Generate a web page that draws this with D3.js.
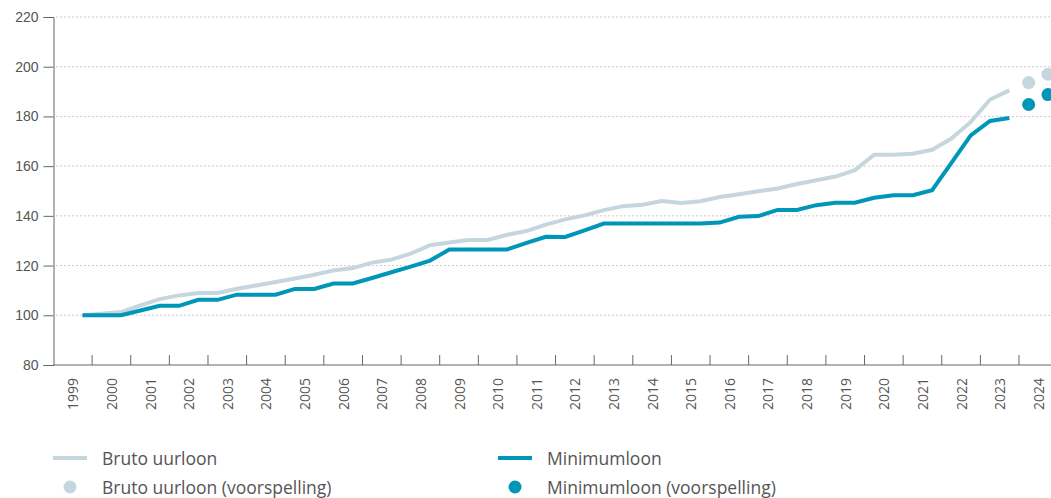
<!DOCTYPE html>
<html>
<head>
<meta charset="utf-8">
<script src="https://d3js.org/d3.v7.min.js"></script>
<style>
    body { margin: 0; background: #fff; }
    svg { display: block; font-family: "Open Sans", sans-serif; }
    .axis text { fill: #555; font-size: 14px; }
    .axis path, .axis line { stroke: #666; }
    .grid line { stroke: #999; stroke-dasharray: 1,3; }
    .legend text { fill: #555; font-size: 17.5px; }
</style>
</head>
<body>
<svg width="1051" height="498"></svg>
<script>

// half-year periods, 1999 H2 up to 2023 H2
var periods = ["1999-2",
    "2000-1","2000-2","2001-1","2001-2","2002-1","2002-2","2003-1","2003-2","2004-1","2004-2",
    "2005-1","2005-2","2006-1","2006-2","2007-1","2007-2","2008-1","2008-2","2009-1","2009-2",
    "2010-1","2010-2","2011-1","2011-2","2012-1","2012-2","2013-1","2013-2","2014-1","2014-2",
    "2015-1","2015-2","2016-1","2016-2","2017-1","2017-2","2018-1","2018-2","2019-1","2019-2",
    "2020-1","2020-2","2021-1","2021-2","2022-1","2022-2","2023-1","2023-2"];

var brutoUurloon = [100,
    100.6, 101.3, 104.0, 106.5, 108.0, 109.0, 109.0, 110.7, 112.0, 113.4,
    114.8, 116.3, 118.0, 119.0, 121.2, 122.4, 124.8, 128.2, 129.3, 130.3,
    130.3, 132.4, 133.9, 136.5, 138.6, 140.2, 142.3, 143.9, 144.5, 146.0,
    145.2, 145.9, 147.6, 148.7, 149.9, 151.0, 152.8, 154.3, 155.8, 158.4,
    164.6, 164.6, 165.0, 166.6, 171.1, 177.8, 186.8, 190.5];

var minimumloon = [100,
    100.0, 100.0, 101.9, 103.8, 103.8, 106.2, 106.2, 108.3, 108.3, 108.3,
    110.6, 110.6, 112.8, 112.8, 115.0, 117.3, 119.6, 122.0, 126.5, 126.5,
    126.5, 126.5, 129.1, 131.6, 131.5, 134.2, 136.9, 136.9, 136.9, 136.9,
    136.9, 136.9, 137.3, 139.6, 139.9, 142.4, 142.4, 144.3, 145.3, 145.3,
    147.3, 148.3, 148.3, 150.3, 161.3, 172.4, 178.2, 179.4];

// forecasts
var forecastPeriods = ["2024-1", "2024-2"];
var brutoForecast = [193.6, 197.0];
var minimumForecast = [184.8, 188.8];

var years = d3.range(1999, 2025);
var yTicks = [80, 100, 120, 140, 160, 180, 200, 220];

var lightColor = "#c5d6de",
    tealColor = "#0096b8";

var svg = d3.select("svg"),
    width = +svg.attr("width");

var x = d3.scaleLinear()
    .domain([1999, 2025])
    .range([53.5, 53.5 + 26 * 38.62]);

var y = d3.scaleLinear()
    .domain([80, 220])
    .range([365, 17]);

// place each half year in the middle of its half of the year band
function pos(p) {
    var parts = p.split("-");
    return +parts[0] + (parts[1] == "1" ? 0.25 : 0.75);
}

// grid
svg.append("g")
    .attr("class", "grid")
    .selectAll("line")
    .data(yTicks.filter(function(d) { return d > 80; }))
    .enter().append("line")
    .attr("x1", x(1999) + 3)
    .attr("x2", width)
    .attr("y1", function(d) { return y(d); })
    .attr("y2", function(d) { return y(d); });

// y axis
svg.append("g")
    .attr("class", "axis")
    .attr("transform", "translate(" + x(1999) + ",0)")
    .call(d3.axisLeft(y).tickValues(yTicks).tickSize(10).tickPadding(5));

// x axis: ticks on year boundaries, labels in the middle of the year
var xAxis = svg.append("g")
    .attr("class", "axis")
    .attr("transform", "translate(0," + y(80) + ")");

xAxis.append("line")
    .attr("x1", x(1999))
    .attr("x2", width)
    .attr("y1", 0).attr("y2", 0)
    .attr("stroke", "#666");

xAxis.selectAll(".tick")
    .data(years.slice(1))
    .enter().append("line")
    .attr("class", "tick")
    .attr("x1", function(d) { return x(d); })
    .attr("x2", function(d) { return x(d); })
    .attr("y1", 0)
    .attr("y2", -10)
    .attr("stroke", "#666");

xAxis.selectAll("text")
    .data(years)
    .enter().append("text")
    .attr("text-anchor", "end")
    .attr("dominant-baseline", "central")
    .attr("transform", function(d) {
        return "translate(" + x(d + 0.5) + ",13) rotate(-90)";
    })
    .text(function(d) { return d; });

var line = d3.line()
    .x(function(d) { return x(pos(d.p)); })
    .y(function(d) { return y(d.v); });

function series(vals) {
    return periods.map(function(p, i) { return { p: p, v: vals[i] }; });
}

svg.append("path")
    .datum(series(brutoUurloon))
    .attr("fill", "none")
    .attr("stroke", lightColor)
    .attr("stroke-width", 4)
    .attr("d", line);

svg.append("path")
    .datum(series(minimumloon))
    .attr("fill", "none")
    .attr("stroke", tealColor)
    .attr("stroke-width", 4)
    .attr("d", line);

svg.append("g")
    .selectAll("circle")
    .data(forecastPeriods)
    .enter().append("circle")
    .attr("cx", function(d) { return x(pos(d)); })
    .attr("cy", function(d, i) { return y(brutoForecast[i]); })
    .attr("r", 6.5)
    .attr("fill", lightColor);

svg.append("g")
    .selectAll("circle")
    .data(forecastPeriods)
    .enter().append("circle")
    .attr("cx", function(d) { return x(pos(d)); })
    .attr("cy", function(d, i) { return y(minimumForecast[i]); })
    .attr("r", 6.5)
    .attr("fill", tealColor);

// legend
var legendItems = [
    { label: "Bruto uurloon", color: lightColor, type: "line", x: 53, y: 458 },
    { label: "Minimumloon", color: tealColor, type: "line", x: 498, y: 458 },
    { label: "Bruto uurloon (voorspelling)", color: lightColor, type: "dot", x: 53, y: 487 },
    { label: "Minimumloon (voorspelling)", color: tealColor, type: "dot", x: 498, y: 487 }
];

var legend = svg.append("g").attr("class", "legend");

legendItems.forEach(function(d) {
    if (d.type == "line") {
        legend.append("line")
            .attr("x1", d.x).attr("x2", d.x + 34)
            .attr("y1", d.y).attr("y2", d.y)
            .attr("stroke", d.color)
            .attr("stroke-width", 4);
    } else {
        legend.append("circle")
            .attr("cx", d.x + 17).attr("cy", d.y)
            .attr("r", 6.5)
            .attr("fill", d.color);
    }
    legend.append("text")
        .attr("x", d.x + 49)
        .attr("y", d.y)
        .attr("dominant-baseline", "central")
        .text(d.label);
});

</script>
</body>
</html>
